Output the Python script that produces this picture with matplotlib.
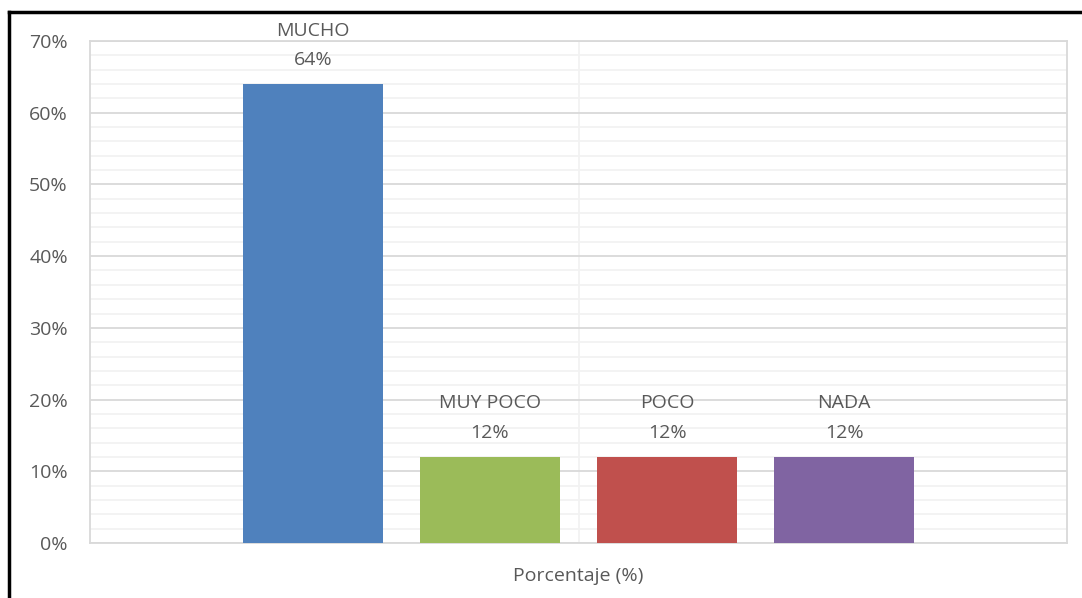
import matplotlib.pyplot as plt
from matplotlib.lines import Line2D
from matplotlib.ticker import MultipleLocator, FuncFormatter, FixedLocator

# data
categories = ["MUCHO", "MUY POCO", "POCO", "NADA"]
values = [64, 12, 12, 12]
colors = ["#4F81BD", "#9BBB59", "#C0504D", "#8064A2"]
axis_title = "Porcentaje (%)"

plt.rcParams["font.family"] = ["Open Sans", "DejaVu Sans"]
text_color = "#595959"

fig = plt.figure(figsize=(10.82, 5.98), dpi=100)
ax = fig.add_axes([90 / 1082, 55 / 598, 977 / 1082, 502 / 598])

# clustered bars inside a single category
step = 0.1812
width = 0.1433
n = len(values)
for i, (cat, val, col) in enumerate(zip(categories, values, colors)):
    x = (i - (n - 1) / 2) * step
    ax.bar(x, val, width=width, color=col, zorder=3)
    ax.annotate(f"{val}%", (x, val), xytext=(0, 17.5), textcoords="offset points",
                ha="center", va="center", fontsize=14, color=text_color)
    ax.annotate(cat, (x, val), xytext=(0, 38.5), textcoords="offset points",
                ha="center", va="center", fontsize=14, color=text_color)

ax.set_xlim(-0.5, 0.5)
ax.set_ylim(0, 70)
ax.yaxis.set_major_locator(MultipleLocator(10))
ax.yaxis.set_minor_locator(MultipleLocator(2))
ax.yaxis.set_major_formatter(FuncFormatter(lambda v, p: f"{v:.0f}%"))
ax.xaxis.set_major_locator(FixedLocator([]))
ax.xaxis.set_minor_locator(FixedLocator([0]))

ax.grid(which="major", axis="y", color="#D9D9D9", linewidth=1.3, zorder=1)
ax.grid(which="minor", axis="y", color="#F2F2F2", linewidth=1.3, zorder=0)
ax.grid(which="minor", axis="x", color="#F2F2F2", linewidth=1.3, zorder=0)
ax.tick_params(which="both", length=0)
ax.tick_params(axis="y", labelsize=14, labelcolor=text_color, pad=16)
for s in ax.spines.values():
    s.set_color("#D9D9D9")
    s.set_linewidth(1.3)

ax.set_xlabel(axis_title, fontsize=14, color=text_color, labelpad=14)

# thick outer frame (only top and left visible in the crop)
fig.add_artist(Line2D([9 / 1082, 9 / 1082], [0, 1 - 11.5 / 598], transform=fig.transFigure,
                      color="black", linewidth=2.5, solid_capstyle="projecting"))
fig.add_artist(Line2D([9 / 1082, 1], [1 - 11.5 / 598, 1 - 11.5 / 598], transform=fig.transFigure,
                      color="black", linewidth=2.5, solid_capstyle="projecting"))

fig.savefig("out.png", dpi=100)
